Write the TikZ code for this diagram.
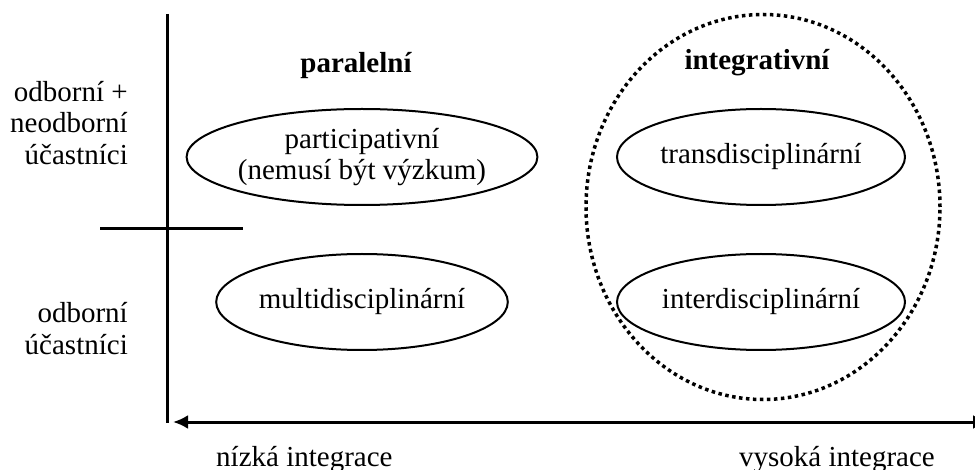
\documentclass[tikz,border=0pt]{standalone}
\usepackage{fontspec}
\setmainfont{Liberation Serif}
\usetikzlibrary{arrows.meta,shapes.geometric}

\tikzset{
	axis/.style={line width=3pt},
	field/.style={draw,ellipse,line width=2pt,minimum width=288pt,minimum height=96pt,inner sep=0pt,align=center},
	group/.style={draw,ellipse,line width=3.5pt,dash pattern=on 3.5pt off 3.5pt,minimum width=354pt,minimum height=385pt},
	head/.style={inner sep=0pt,anchor=base,font=\fontsize{29}{31}\selectfont\bfseries},
}

\begin{document}
\begin{tikzpicture}[x=1pt,y=-1pt,font=\fontsize{29}{31}\selectfont]

	\useasboundingbox (0,0) rectangle (975,470);

	% axes
	\coordinate (ytop) at (167,14);
	\coordinate (ybot) at (167,423);
	\coordinate (xl) at (173,422);
	\coordinate (xr) at (988,422);
	\coordinate (cl) at (100,229);
	\coordinate (cr) at (243,229);

	\draw[axis] (ytop) -- (ybot);
	\draw[axis] (cl) -- (cr);
	\draw[axis,{Latex[length=15pt,width=14pt]}-{Latex[length=15pt,width=14pt]}] (xl) -- (xr);

	% row labels
	\foreach \t/\y [count=\i] in {odborní +/102, neodborní/133, účastníci/165, odborní/323, účastníci/355}
		\node[inner sep=0pt,anchor=base east] (row\i) at (128,\y) {\t};

	% column heads
	\node[head] (par) at (356,73) {paralelní};
	\node[head] (int) at (757,70) {integrativní};

	% integrative group
	\node[group] (grp) at (763,207) {};

	% fields
	\node[field] (part) at (362,157) {participativní\\(nemusí být výzkum)};
	\node[field] (multi) at (362,302) {multidisciplinární};
	\node[field] (trans) at (761,157) {transdisciplinární};
	\node[field] (inter) at (761,302) {interdisciplinární};

	% integration scale
	\node[inner sep=0pt,anchor=base west] (low) at (216,466) {nízká integrace};
	\node[inner sep=0pt,anchor=base east] (high) at (935,466) {vysoká integrace};

\end{tikzpicture}
\end{document}
